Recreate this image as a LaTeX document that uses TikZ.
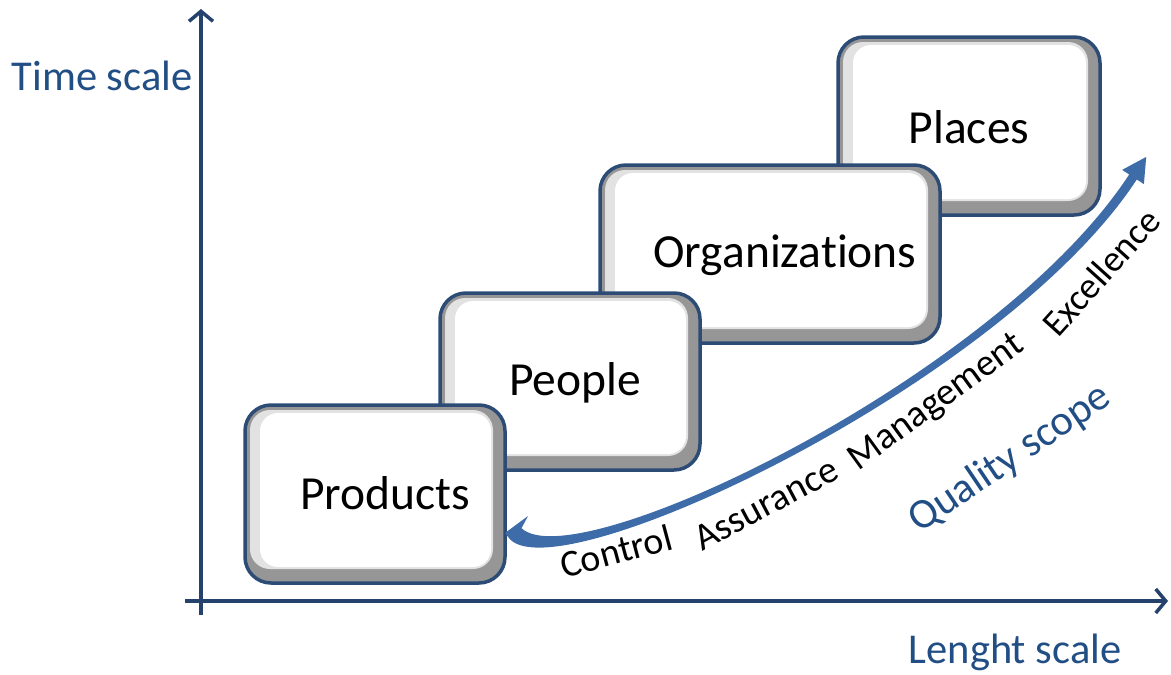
\documentclass[tikz,border=0pt]{standalone}
\usepackage{fontspec}
\setmainfont{Carlito}[Ligatures={NoCommon}]
\usetikzlibrary{arrows.meta}
\definecolor{boxblue}{RGB}{44,76,118}
\definecolor{axisblue}{RGB}{36,66,108}
\definecolor{txtblue}{RGB}{33,78,132}
\definecolor{arrblue}{RGB}{62,108,168}
\definecolor{bevel}{RGB}{150,150,150}
\definecolor{bevellight}{RGB}{226,226,226}
\tikzset{
  qbox/.style={draw=boxblue, line width=3.5pt, rounded corners=26pt, fill=bevel,
    inner sep=0pt,
    path picture={
      \fill[bevellight, rounded corners=20pt]
        ([shift={(5pt,-5pt)}]path picture bounding box.north west) rectangle
        ([shift={(-12pt,14pt)}]path picture bounding box.south east);
      \fill[white, rounded corners=18pt]
        ([shift={(15pt,-8pt)}]path picture bounding box.north west) rectangle
        ([shift={(-14pt,16pt)}]path picture bounding box.south east);
    }},
  boxtext/.style={font=\fontsize{47.5}{57}\selectfont, text=black, inner sep=0pt},
  axislabel/.style={font=\fontsize{42.5}{51}\selectfont, text=txtblue, inner sep=0pt},
  curvelabel/.style={font=\fontsize{38}{46}\selectfont, text=black, inner sep=0pt},
  axisline/.style={draw=axisblue, line width=3.5pt},
}
\begin{document}
\begin{tikzpicture}[x=1pt,y=-1pt]
\useasboundingbox (0,0) rectangle (1171,675);
% axes
\coordinate (yb) at (201,615);
\coordinate (yt) at (201,9);
\coordinate (xl) at (185,601);
\coordinate (xr) at (1168,601);
\draw[axisline, -{Straight Barb[length=10pt,width=24pt]}] (yb) -- (yt);
\draw[axisline, -{Straight Barb[length=10pt,width=24pt]}] (xl) -- (xr);
\node[axislabel] (tscale) at (102,76) {Time scale};
\node[axislabel] (lscale) at (1015,652) {Lenght scale};
% boxes
\node[qbox, minimum width=262pt, minimum height=178pt] (places) at (969,126) {};
\node[boxtext] (placesT) at (969,127) {Places};
\node[qbox, minimum width=340pt, minimum height=178pt] (org) at (770,254) {};
\node[boxtext] (orgT) at (785,255) {Organizations};
\node[qbox, minimum width=260pt, minimum height=177pt] (people) at (570,381.5) {};
\node[boxtext] (peopleT) at (575,383) {People};
\node[qbox, minimum width=260pt, minimum height=178pt] (prod) at (375,494) {};
\node[boxtext] (prodT) at (385,493) {Products};
% curved tapered double arrow
\coordinate (ltip) at (505,533);
\coordinate (lbarb) at (528,516);
\coordinate (p0u) at (521.5,528.2);
\coordinate (p1u) at (575.5,579.2);
\coordinate (p2u) at (996.2,377.5);
\coordinate (p3u) at (1129.2,174.5);
\coordinate (hbu) at (1122.1,169.9);
\coordinate (htip) at (1146.2,156.9);
\coordinate (hbl) at (1143.9,184.1);
\coordinate (p3l) at (1136.8,179.5);
\coordinate (p2l) at (1003.8,382.5);
\coordinate (p1l) at (564.5,590.8);
\coordinate (p0l) at (510.5,539.8);
\fill[arrblue] (ltip) -- (lbarb) -- (p0u) .. controls (p1u) and (p2u) .. (p3u)
  -- (hbu) -- (htip) -- (hbl) -- (p3l) .. controls (p2l) and (p1l) .. (p0l) -- cycle;
% labels along the curve
\node[curvelabel, rotate=15] (lc) at (616,551) {Control};
\node[curvelabel, rotate=28] (la) at (766,504) {Assurance};
\node[curvelabel, rotate=36] (lm) at (937,403) {Management};
\node[curvelabel, rotate=48, font=\fontsize{37}{44}\selectfont] (le) at (1101,272) {Excellence};
\node[axislabel, rotate=34] (qscope) at (1010,459) {Quality scope};
\end{tikzpicture}
\end{document}
